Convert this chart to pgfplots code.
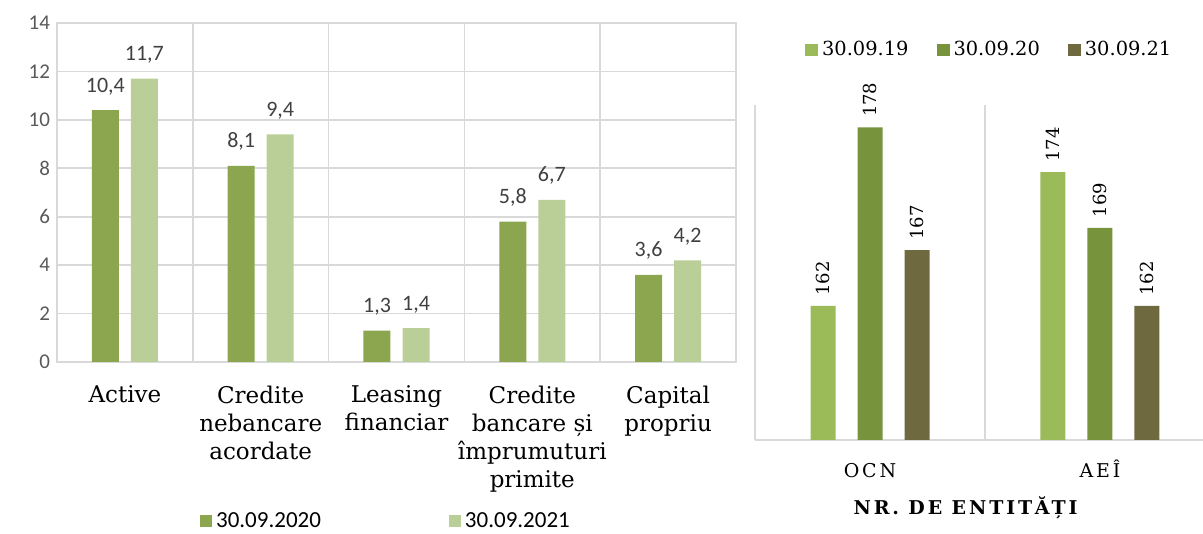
\documentclass[border=0pt]{standalone}
\usepackage{fontspec}
\setmainfont{Carlito}
\newfontfamily\cserif{DejaVu Serif}
\newfontfamily\cspaced[LetterSpace=15]{DejaVu Serif}
\usepackage{pgfplots}
\pgfplotsset{compat=1.18}
\definecolor{gOld}{HTML}{8BA64F}
\definecolor{gNew}{HTML}{BACF97}
\definecolor{rA}{HTML}{9BBB59}
\definecolor{rB}{HTML}{77933C}
\definecolor{rC}{HTML}{6F6940}
\definecolor{gridc}{HTML}{D9D9D9}
\definecolor{tickc}{HTML}{595959}
\definecolor{labc}{HTML}{404040}

\begin{document}
\begin{tikzpicture}
\useasboundingbox (0,0) rectangle (601.5pt,267pt);
% left panel: values in billions
\begin{axis}[
  at={(28.5pt,86pt)}, anchor=south west,
  scale only axis, width=339.5pt, height=169.5pt,
  ybar, bar width=13.5pt,
  xmin=-0.5, xmax=4.5, ymin=0, ymax=14,
  ytick={0,2,...,14},
  xtick={0,...,4},
  xticklabels={Active, Credite\\nebancare\\acordate, Leasing\\financiar,
    Credite\\bancare și\\împrumuturi\\primite, Capital\\propriu},
  minor xtick={0.5,1.5,2.5,3.5},
  xminorgrids, ymajorgrids,
  major grid style={draw=gridc, line width=0.8pt},
  minor grid style={draw=gridc, line width=0.8pt},
  axis line style={draw=gridc, line width=0.8pt},
  tick style={draw=none},
  /pgf/number format/assume math mode=true,
  yticklabel style={font=\fontsize{10.5}{12}\selectfont, text=tickc},
  xticklabel style={font=\cserif\fontsize{11.5}{14}\selectfont, align=center, yshift=-4pt},
  nodes near coords={\pgfmathprintnumber[fixed,fixed zerofill,precision=1,use comma]{\pgfplotspointmeta}},
  nodes near coords style={font=\fontsize{11}{13}\selectfont, text=labc, anchor=base, inner sep=0pt, yshift=9pt},
  legend image code/.code={\fill[#1] (0pt,-3pt) rectangle (6pt,3pt);},
  legend style={at={(0.486,-0.47)}, anchor=center, draw=none, legend columns=2,
    font=\fontsize{11.5}{13}\selectfont, /tikz/every even column/.append style={column sep=62pt}},
]
\addplot[fill=gOld, draw=none, bar shift=-9.75pt] coordinates {(0,10.4) (1,8.1) (2,1.3) (3,5.8) (4,3.6)};
\addlegendentry{30.09.2020}
\addplot[fill=gNew, draw=none, bar shift=9.75pt] coordinates {(0,11.7) (1,9.4) (2,1.4) (3,6.7) (4,4.2)};
\addlegendentry{30.09.2021}
\end{axis}

% right panel: number of entities
\begin{axis}[
  at={(377.5pt,47pt)}, anchor=south west,
  scale only axis, width=224pt, height=167.5pt,
  ybar, bar width=12.5pt,
  xmin=-0.5, xmax=1.448, ymin=150, ymax=180,
  axis x line*=bottom, axis y line=none,
  xtick={0,1}, xticklabels={OCN, AEÎ},
  minor xtick={-0.5,0.5}, xminorgrids,
  minor grid style={draw=gridc, line width=0.8pt},
  axis line style={draw=gridc, line width=0.8pt},
  tick style={draw=none},
  /pgf/number format/assume math mode=true,
  xticklabel style={font=\cspaced\fontsize{9.5}{11}\selectfont, text height=7pt, text depth=0pt, anchor=north, yshift=-4pt},
  xlabel={\textbf{NR. DE ENTITĂȚI}},
  xlabel style={at={(axis description cs:0.473,0)}, anchor=center, yshift=-34pt,
    font=\cspaced\fontsize{9.5}{11}\selectfont},
  nodes near coords,
  nodes near coords style={font=\cserif\fontsize{9}{11}\selectfont, rotate=90, anchor=west, inner sep=0pt},
  every node near coord/.append style={inner xsep=5pt},
  legend image code/.code={\fill[#1] (0pt,-3.2pt) rectangle (6.5pt,3.2pt);},
  legend style={at={(0.525,1.164)}, anchor=center, draw=none, legend columns=3,
    font=\cserif\fontsize{9.7}{12}\selectfont, /tikz/every even column/.append style={column sep=12pt}},
]
\addplot[fill=rA, draw=none, bar shift=-23.5pt] coordinates {(0,162) (1,174)};
\addlegendentry{30.09.19}
\addplot[fill=rB, draw=none, bar shift=0pt] coordinates {(0,178) (1,169)};
\addlegendentry{30.09.20}
\addplot[fill=rC, draw=none, bar shift=23.5pt] coordinates {(0,167) (1,162)};
\addlegendentry{30.09.21}
\end{axis}
\end{tikzpicture}
\end{document}
